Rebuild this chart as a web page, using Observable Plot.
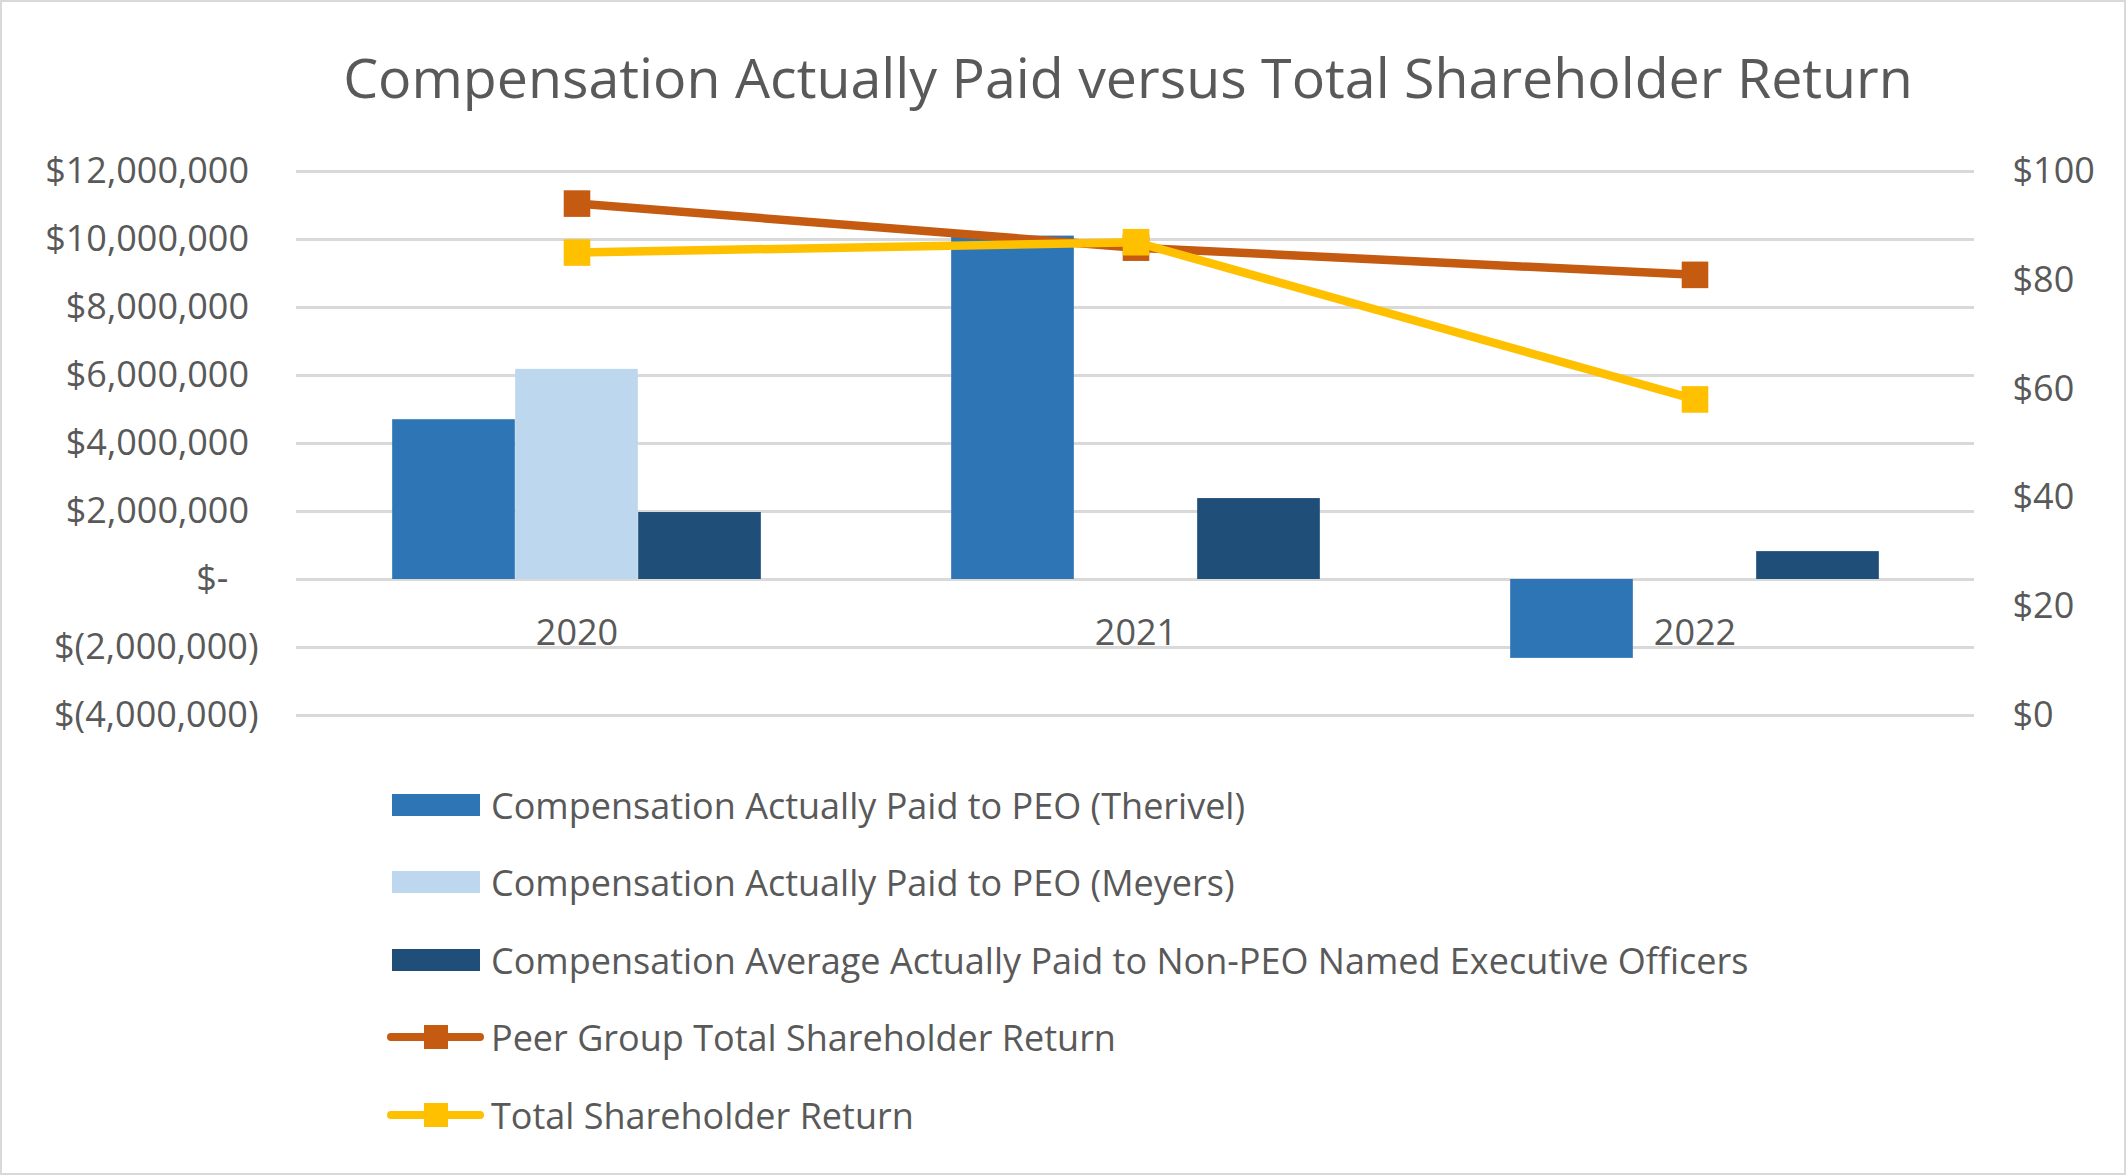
<!DOCTYPE html>
<html>
<head>
<meta charset="utf-8">
<script src="https://cdn.jsdelivr.net/npm/d3@7"></script>
<script src="https://cdn.jsdelivr.net/npm/@observablehq/plot@0.6"></script>
<style>
  html, body { margin: 0; padding: 0; background: #fff; }
  #wrap { position: relative; width: 2126px; height: 1175px; overflow: hidden; font-family: "Open Sans", sans-serif; color: #595959; }
  #border { position: absolute; left: 0; top: 0; width: 2126px; height: 1175px; box-sizing: border-box; border: 2px solid #d9d9d9; pointer-events: none; }
  #title { height: 130px; position: relative; }
  #title span { position: absolute; left: 1128px; top: 76px; transform: translate(-50%, -50%); white-space: nowrap; font-size: 55.5px; color: #595959; }
  #legend { position: relative; height: 415px; }
  .row { position: absolute; left: 387px; height: 40px; display: flex; align-items: center; transform: translateY(-50%); }
  .row .lbl { font-size: 36px; color: #595959; white-space: nowrap; margin-left: 7px; }
  .sw { width: 88px; height: 22px; margin-left: 5px; margin-right: 4px; }
</style>
</head>
<body>
<div id="wrap">
  <div id="title"><span>Compensation Actually Paid versus Total Shareholder Return</span></div>
  <div id="plot"></div>
  <div id="legend"></div>
  <div id="border"></div>
</div>
<script>
// ---- data ----
const years = ["2020", "2021", "2022"];
const capTherivel = [4700000, 10100000, -2320000];
const capMeyers = [6180000, null, null];
const capNonPeo = [1970000, 2380000, 820000];
const peerTsr = [94.1, 86.0, 81.0];
const tsr = [85.1, 87.0, 58.1];
const leftTicks = [-4000000, -2000000, 0, 2000000, 4000000, 6000000, 8000000, 10000000, 12000000];
const rightTicks = [0, 20, 40, 60, 80, 100];
const seriesNames = [
  "Compensation Actually Paid to PEO (Therivel)",
  "Compensation Actually Paid to PEO (Meyers)",
  "Compensation Average Actually Paid to Non-PEO Named Executive Officers",
  "Peer Group Total Shareholder Return",
  "Total Shareholder Return"
];
const colors = ["#2E75B6", "#BDD7EE", "#1F4E79", "#C55A11", "#FFC000"];

// right axis ($0..$100) shares the pixel range of the left axis (-4M..12M)
const L0 = -4000000, L1 = 12000000, R0 = 0, R1 = 100;
const toLeft = v => L0 + (v - R0) * (L1 - L0) / (R1 - R0);
const fromLeft = v => R0 + (v - L0) * (R1 - R0) / (L1 - L0);

const rows = arr => years.map((year, i) => ({year, v: arr[i]})).filter(d => d.v != null);

const fmtLeft = d => {
  if (d === 0) return "$-\u2007\u2008";
  const s = d3.format(",")(Math.abs(d));
  return d < 0 ? "$(" + s + ")" : "$" + s + "\u2008";
};

const W = 2126, mL = 296, mR = 152;
const band = (W - mL - mR) / years.length;
const barW = 123;
const inset = (band - barW) / 2;

const chart = Plot.plot({
  width: W,
  height: 630,
  marginLeft: mL,
  marginRight: mR,
  marginTop: 41,
  marginBottom: 45,
  style: {fontFamily: "Open Sans, sans-serif", fontSize: "36px", color: "#595959", background: "#fff"},
  x: {domain: years, padding: 0, label: null},
  y: {domain: [L0, L1], label: null},
  marks: [
    Plot.gridY({ticks: leftTicks, stroke: "#d9d9d9", strokeOpacity: 1, strokeWidth: 3}),
    Plot.barY(rows(capTherivel), {x: "year", y: "v", fill: colors[0], dx: -barW, insetLeft: inset, insetRight: inset}),
    Plot.barY(rows(capMeyers), {x: "year", y: "v", fill: colors[1], insetLeft: inset, insetRight: inset}),
    Plot.barY(rows(capNonPeo), {x: "year", y: "v", fill: colors[2], dx: barW, insetLeft: inset, insetRight: inset}),
    Plot.axisY({ticks: leftTicks, tickFormat: fmtLeft, tickSize: 0, tickPadding: 38, fill: "#595959", fontSize: 36, label: null}),
    Plot.axisY({anchor: "right", ticks: rightTicks.map(toLeft), tickFormat: d => "$" + Math.round(fromLeft(d)), tickSize: 0, tickPadding: 38, fill: "#595959", fontSize: 36, label: null}),
    Plot.axisX({anchor: "bottom", tickSize: 0, tickPadding: 0, dy: -96, fill: "#595959", fontSize: 36, label: null}),
    Plot.line(rows(peerTsr), {x: "year", y: d => toLeft(d.v), stroke: colors[3], strokeWidth: 8.5}),
    Plot.dot(rows(peerTsr), {x: "year", y: d => toLeft(d.v), symbol: "square", r: 15, fill: colors[3]}),
    Plot.line(rows(tsr), {x: "year", y: d => toLeft(d.v), stroke: colors[4], strokeWidth: 8.5}),
    Plot.dot(rows(tsr), {x: "year", y: d => toLeft(d.v), symbol: "square", r: 15, fill: colors[4]})
  ]
});
document.getElementById("plot").appendChild(chart);

// ---- legend ----
const legend = document.getElementById("legend");
const centers = [45, 122, 200, 277, 355];
seriesNames.forEach((name, i) => {
  const row = document.createElement("div");
  row.className = "row";
  row.style.top = centers[i] + "px";
  if (i < 3) {
    row.innerHTML = `<div class="sw" style="background:${colors[i]}"></div><span class="lbl">${name}</span>`;
  } else {
    row.innerHTML = `<svg width="97" height="30"><line x1="4" y1="15" x2="93" y2="15" stroke="${colors[i]}" stroke-width="8" stroke-linecap="round"/><rect x="37" y="3" width="24" height="24" fill="${colors[i]}"/></svg><span class="lbl">${name}</span>`;
  }
  legend.appendChild(row);
});
</script>
</body>
</html>
